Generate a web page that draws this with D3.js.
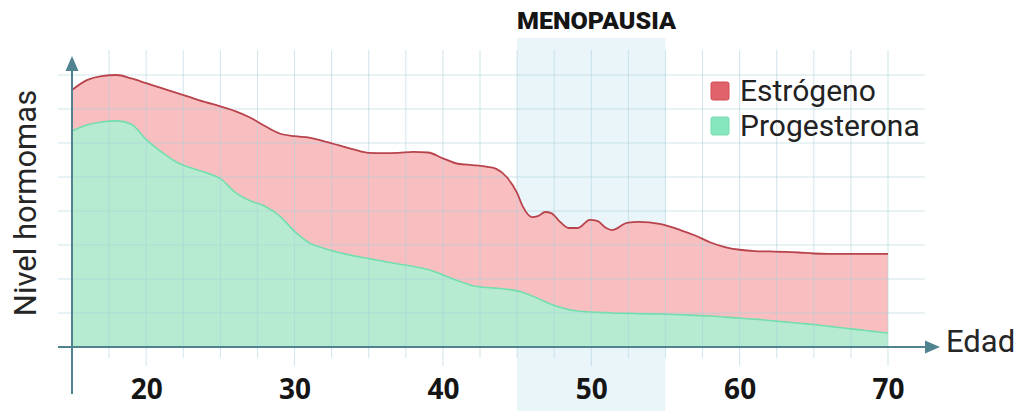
<!DOCTYPE html>
<html>
<head>
<meta charset="utf-8">
<script src="https://cdn.jsdelivr.net/npm/d3@7"></script>
<style>
  html, body { margin: 0; padding: 0; background: #fff; }
  svg { display: block; }
</style>
</head>
<body>
<svg id="chart" width="1036" height="411"></svg>
<script>
// ---- data ----
const ages = [15, 16, 17, 18, 19, 20, 21, 22, 23, 24, 25, 26, 27, 28, 29, 30, 31, 32, 33, 34, 35, 36, 37, 38, 39, 40, 41, 42, 43, 43.6, 44.3, 45, 45.4, 46, 46.4, 46.9, 47.3, 47.9, 48.5, 49.1, 49.9, 50.4, 51, 51.4, 52.4, 53.2, 54.6, 56, 57, 58, 59, 60, 61, 62, 63, 64, 65, 66, 67, 68, 69, 70];
const estrogeno = [7.56, 7.85, 7.97, 8.0, 7.9, 7.76, 7.62, 7.48, 7.34, 7.2, 7.08, 6.94, 6.75, 6.5, 6.28, 6.2, 6.16, 6.05, 5.93, 5.81, 5.71, 5.7, 5.71, 5.74, 5.72, 5.55, 5.39, 5.35, 5.3, 5.24, 5.0, 4.53, 4.12, 3.82, 3.85, 3.97, 3.94, 3.68, 3.5, 3.5, 3.74, 3.71, 3.5, 3.44, 3.65, 3.68, 3.62, 3.44, 3.28, 3.08, 2.94, 2.86, 2.82, 2.81, 2.8, 2.78, 2.75, 2.74, 2.74, 2.74, 2.74, 2.74];
const progesterona = [6.35, 6.53, 6.62, 6.65, 6.55, 6.1, 5.75, 5.45, 5.27, 5.13, 4.95, 4.55, 4.3, 4.14, 3.85, 3.4, 3.06, 2.9, 2.78, 2.68, 2.6, 2.52, 2.44, 2.37, 2.28, 2.12, 1.95, 1.8, 1.75, 1.73, 1.7, 1.65, 1.6, 1.5, 1.43, 1.33, 1.26, 1.17, 1.1, 1.06, 1.03, 1.02, 1.01, 1.0, 0.99, 0.98, 0.97, 0.95, 0.93, 0.91, 0.88, 0.85, 0.82, 0.78, 0.74, 0.7, 0.66, 0.61, 0.56, 0.51, 0.46, 0.41];
const xTicks = [20, 30, 40, 50, 60, 70];
const gridAges = [17.5, 20, 22.5, 25, 27.5, 30, 32.5, 35, 37.5, 40, 42.5, 45, 47.5, 50, 52.5, 55, 57.5, 60, 62.5, 65, 67.5, 70];
const gridLevels = [1, 2, 3, 4, 5, 6, 7, 8];
const menopausia = [45, 55];
const seriesNames = ["Estrógeno", "Progesterona"];
const titleText = "MENOPAUSIA";
const xLabel = "Edad";
const yLabel = "Nivel hormomas";

// ---- drawing ----
const svg = d3.select("#chart");
const x = d3.scaleLinear().domain([15, 70]).range([72, 888]);
const y = d3.scaleLinear().domain([0, 8]).range([347, 75]);
const axisColor = "#4f8390";

const data = ages.map((a, i) => ({ age: a, e: estrogeno[i], p: progesterona[i] }));

// menopause band
svg.append("rect")
  .attr("x", x(menopausia[0])).attr("y", 38)
  .attr("width", x(menopausia[1]) - x(menopausia[0]))
  .attr("height", 411 - 38)
  .attr("fill", "#eaf5fa");

// areas
const curve = d3.curveMonotoneX;
const areaE = d3.area().x(d => x(d.age)).y0(y(0)).y1(d => y(d.e)).curve(curve);
const areaP = d3.area().x(d => x(d.age)).y0(y(0)).y1(d => y(d.p)).curve(curve);
const lineE = d3.line().x(d => x(d.age)).y(d => y(d.e)).curve(curve);
const lineP = d3.line().x(d => x(d.age)).y(d => y(d.p)).curve(curve);

svg.append("path").datum(data).attr("d", areaE).attr("fill", "#f9bfc0");
svg.append("path").datum(data).attr("d", areaP).attr("fill", "#b6ebd1");

// grid (drawn over fills, faint)
const grid = svg.append("g").attr("stroke", "#a9cfdc").attr("stroke-opacity", 0.55).attr("stroke-width", 1);
grid.selectAll("line.h").data(gridLevels).join("line")
  .attr("x1", 58).attr("x2", 925)
  .attr("y1", d => y(d)).attr("y2", d => y(d));
grid.selectAll("line.v").data(gridAges).join("line")
  .attr("x1", d => x(d)).attr("x2", d => x(d))
  .attr("y1", 50)
  .attr("y2", d => (d % 10 === 0 ? 366 : 358));

// curve strokes
svg.append("path").datum(data).attr("d", lineP)
  .attr("fill", "none").attr("stroke", "#72deaf").attr("stroke-width", 1.6);
svg.append("path").datum(data).attr("d", lineE)
  .attr("fill", "none").attr("stroke", "#b8434c").attr("stroke-width", 1.8);

// axes
svg.append("line").attr("x1", x(15)).attr("x2", x(15)).attr("y1", 394).attr("y2", 66)
  .attr("stroke", axisColor).attr("stroke-width", 2);
svg.append("path").attr("d", `M${x(15)},56 L${x(15) - 6.5},71 L${x(15) + 6.5},71 Z`).attr("fill", axisColor);
svg.append("line").attr("x1", 58).attr("x2", 928).attr("y1", y(0)).attr("y2", y(0))
  .attr("stroke", axisColor).attr("stroke-width", 2);
svg.append("path").attr("d", `M940,${y(0)} L925,${y(0) - 6.5} L925,${y(0) + 6.5} Z`).attr("fill", axisColor);

// x tick labels via d3 axis
const xAxis = d3.axisBottom(x).tickValues(xTicks).tickSize(0).tickPadding(0).tickFormat(d3.format("d"));
const gx = svg.append("g").attr("transform", `translate(0, 383)`).call(xAxis);
gx.select(".domain").remove();
gx.selectAll("text")
  .attr("dy", "0.71em")
  .attr("y", -4)
  .attr("fill", "#151515")
  .style("font-family", "'Open Sans', sans-serif")
  .style("font-weight", 700)
  .style("font-size", "28px");

// axis labels
svg.append("text").attr("x", 946).attr("y", 352)
  .attr("fill", "#262626")
  .style("font-family", "Roboto, sans-serif").style("font-size", "31px")
  .text(xLabel);
svg.append("text")
  .attr("transform", `translate(36, 203) rotate(-90)`)
  .attr("text-anchor", "middle")
  .attr("fill", "#262626")
  .style("font-family", "Roboto, sans-serif").style("font-size", "31px")
  .text(yLabel);

// title
svg.append("text").attr("x", 517).attr("y", 29)
  .attr("fill", "#151515")
  .attr("textLength", 159).attr("lengthAdjust", "spacingAndGlyphs")
  .style("font-family", "Roboto, sans-serif").style("font-weight", 900).style("font-size", "23px")
  .text(titleText);

// legend
const legendColors = [{ fill: "#e0636b", stroke: "#d24a55" }, { fill: "#86e6bd", stroke: "#76dcb0" }];
const lg = svg.append("g");
seriesNames.forEach((name, i) => {
  const yy = 82 + i * 35;
  lg.append("rect").attr("x", 711).attr("y", yy).attr("width", 18).attr("height", 18).attr("rx", 2)
    .attr("fill", legendColors[i].fill).attr("stroke", legendColors[i].stroke).attr("stroke-width", 1);
  lg.append("text").attr("x", 740).attr("y", yy + 19)
    .attr("fill", "#222")
    .style("font-family", "Roboto, sans-serif").style("font-size", "30px")
    .text(name);
});
</script>
</body>
</html>
